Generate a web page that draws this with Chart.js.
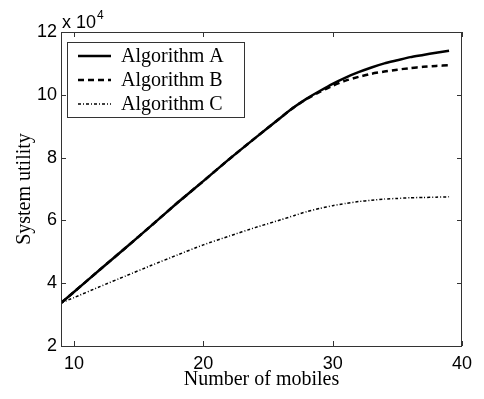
<!DOCTYPE html>
<html>
<head>
<meta charset="utf-8">
<script src="https://cdn.jsdelivr.net/npm/chart.js@4.4.0/dist/chart.umd.min.js"></script>
<style>
html,body{margin:0;padding:0;background:#fff;}
#wrap{width:484px;height:399px;position:relative;}
</style>
</head>
<body>
<div id="wrap"><canvas id="c" width="484" height="399"></canvas></div>
<script>
// Data (values in absolute units; axis shows x 10^4)
const mobiles = [9,10,12,14,16,18,20,22,24,26,27,28,29,30,31,32,33,34,35,36,37,38,39];
const algoA = [33700,37200,44300,51300,58400,65600,72500,79500,86200,92800,96000,98800,101200,103500,105500,107200,108700,110000,111000,112000,112700,113400,114000];
const algoB = [33700,37200,44300,51300,58400,65600,72500,79500,86200,92800,96000,98700,100900,102900,104500,105700,106700,107400,108000,108500,108900,109200,109400];
const algoC = [33700,35400,38900,42300,45700,49000,52200,55000,57700,60200,61500,62800,63800,64700,65400,66000,66400,66800,67000,67200,67300,67400,67500];
const xTicks = [10,20,30,40];
const yTicks = [20000,40000,60000,80000,100000,120000];
const seriesNames = ['Algorithm A','Algorithm B','Algorithm C'];

const toXY = arr => arr.map((v,i)=>({x:mobiles[i], y:v}));

const frame = {
  id:'frame',
  afterDraw(chart){
    const {ctx, chartArea:a, scales:{x,y}} = chart;
    ctx.save();
    ctx.strokeStyle = '#333';
    ctx.lineWidth = 1;
    ctx.strokeRect(Math.round(a.left)+0.5, Math.round(a.top)+0.5, Math.round(a.right-a.left)-1, Math.round(a.bottom-a.top));
    const L = 5;
    ctx.beginPath();
    x.ticks.forEach(t=>{
      const px = Math.round(x.getPixelForValue(t.value))+0.5;
      ctx.moveTo(px,a.bottom); ctx.lineTo(px,a.bottom-L);
      ctx.moveTo(px,a.top); ctx.lineTo(px,a.top+L);
    });
    y.ticks.forEach(t=>{
      const py = Math.round(y.getPixelForValue(t.value))+0.5;
      ctx.moveTo(a.left,py); ctx.lineTo(a.left+L,py);
      ctx.moveTo(a.right,py); ctx.lineTo(a.right-L,py);
    });
    ctx.stroke();
    // exponent label
    ctx.fillStyle = '#000';
    ctx.textBaseline = 'alphabetic';
    ctx.textAlign = 'left';
    ctx.font = '18px "Liberation Sans", Arial, sans-serif';
    ctx.fillText('x 10', a.left+1, a.top-4);
    const w = ctx.measureText('x 10').width;
    ctx.font = '12px "Liberation Sans", Arial, sans-serif';
    ctx.fillText('4', a.left+1+w+1, a.top-13);
    // legend
    const bx=67, by=42, bw=177, bh=75;
    ctx.fillStyle='#fff';
    ctx.fillRect(bx,by,bw,bh);
    ctx.strokeStyle='#333';
    ctx.strokeRect(bx+0.5,by+0.5,bw,bh);
    const rows=[56,80,104];
    chart.data.datasets.forEach((ds,i)=>{
      ctx.beginPath();
      ctx.strokeStyle = ds.borderColor;
      ctx.lineWidth = ds.borderWidth;
      ctx.setLineDash(ds.borderDash||[]);
      ctx.moveTo(78,rows[i]); ctx.lineTo(111,rows[i]);
      ctx.stroke();
      ctx.setLineDash([]);
      ctx.fillStyle='#000';
      ctx.font='20px "Liberation Serif", "Times New Roman", serif';
      ctx.textBaseline='middle';
      ctx.fillText(ds.label, 121, rows[i]+1);
    });
    ctx.restore();
  }
};

new Chart(document.getElementById('c'), {
  type:'line',
  data:{
    datasets:[
      {label:seriesNames[0], data:toXY(algoA), borderColor:'#000', borderWidth:2.5, pointRadius:0, tension:0.2},
      {label:seriesNames[1], data:toXY(algoB), borderColor:'#000', borderWidth:2.5, borderDash:[6,4], pointRadius:0, tension:0.2},
      {label:seriesNames[2], data:toXY(algoC), borderColor:'#000', borderWidth:1.5, borderDash:[3,2,1,2], pointRadius:0, tension:0.2}
    ]
  },
  options:{
    responsive:false,
    animation:false,
    layout:{padding:{left:0,right:22,top:32,bottom:0}},
    plugins:{legend:{display:false}, tooltip:{enabled:false}},
    scales:{
      x:{
        type:'linear', min:9, max:40,
        afterBuildTicks:s=>{s.ticks = xTicks.map(v=>({value:v}));},
        afterFit:s=>{s.height=53;},
        grid:{display:false, drawTicks:false},
        border:{display:false},
        ticks:{color:'#000', padding:7, maxRotation:0, font:{family:'"Liberation Sans", Arial, sans-serif', size:18}},
        title:{display:true, text:'Number of mobiles', color:'#000', padding:{top:0,bottom:7}, font:{family:'"Liberation Serif", "Times New Roman", serif', size:20}}
      },
      y:{
        type:'linear', min:20000, max:120000,
        afterBuildTicks:s=>{s.ticks = yTicks.map(v=>({value:v}));},
        afterFit:s=>{s.width=61;},
        grid:{display:false, drawTicks:false},
        border:{display:false},
        ticks:{color:'#000', padding:4, callback:v=>String(v/10000), font:{family:'"Liberation Sans", Arial, sans-serif', size:18}},
        title:{display:true, text:'System utility', color:'#000', padding:{top:13,bottom:0}, font:{family:'"Liberation Serif", "Times New Roman", serif', size:20}}
      }
    }
  },
  plugins:[frame]
});
</script>
</body>
</html>
